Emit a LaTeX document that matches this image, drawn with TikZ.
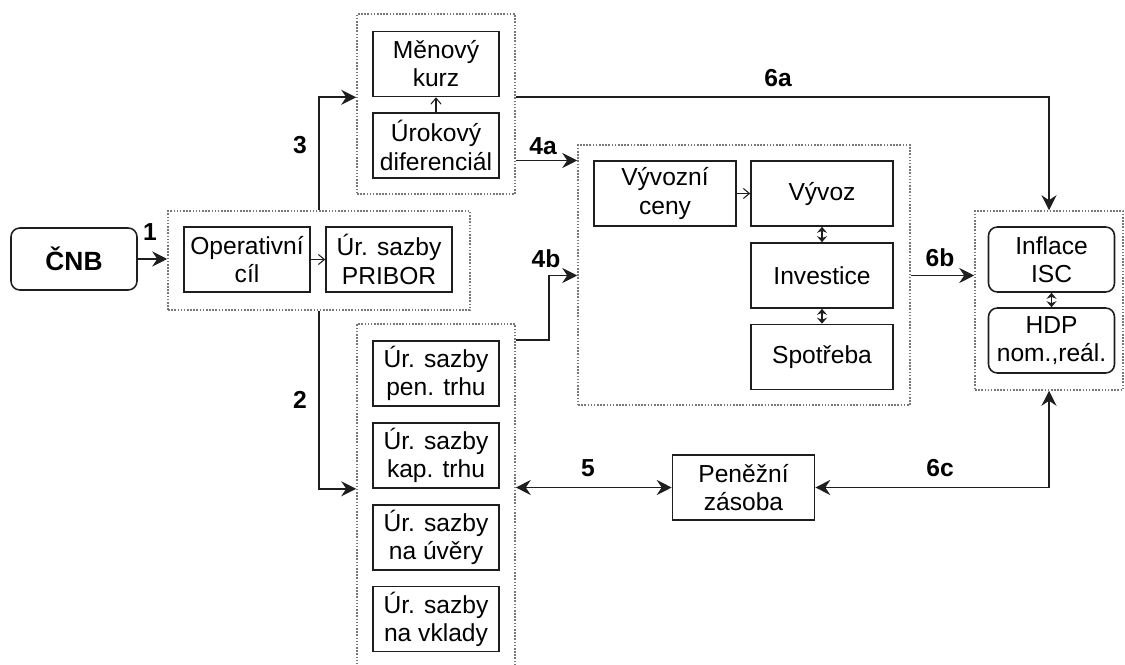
\documentclass[tikz,border=0pt]{standalone}
\usepackage{fontspec}
\setmainfont{Liberation Sans}
\usetikzlibrary{arrows.meta, positioning, calc}
\definecolor{boxline}{RGB}{30,30,30}
\definecolor{grpline}{RGB}{120,120,120}
\tikzset{
  box/.style={rectangle, draw=boxline, line width=0.9pt,
    minimum width=2.52cm, minimum height=1.3cm, align=center,
    font=\fontsize{14}{16}\selectfont, inner sep=1pt},
  rbox/.style={box, rounded corners=5pt},
  wbox/.style={box, minimum width=2.84cm},
  group/.style={rectangle, draw=grpline, line width=0.9pt,
    dash pattern=on 0.9pt off 0.9pt},
  arrow/.style={-{Stealth[length=3mm, width=3mm, inset=1mm]}, line width=1pt, color=boxline},
  dblarrow/.style={{Stealth[length=3mm, width=3mm, inset=1mm]}-{Stealth[length=3mm, width=3mm, inset=1mm]},
    line width=1pt, color=boxline},
  thinarrow/.style={-{Straight Barb[length=1.2mm, width=2mm]}, line width=0.6pt, color=boxline},
  thindbl/.style={{Stealth[length=1.2mm, width=2mm]}-{Stealth[length=1.2mm, width=2mm]},
    line width=1pt, color=boxline},
  lbl/.style={font=\fontsize{14}{16}\selectfont\bfseries}
}

\begin{document}
\begin{tikzpicture}[x=0.02cm, y=-0.02cm]
  \useasboundingbox (0,0) rectangle (1125,665);

  % Groups
  \node[group, minimum width=6.04cm, minimum height=1.98cm] (grp1) at (319,260.5) {};
  \node[group, minimum width=3.16cm, minimum height=3.6cm] (grp2) at (436,104) {};
  \node[group, minimum width=6.64cm, minimum height=5.2cm] (grp3) at (744,275) {};
  \node[group, minimum width=3.16cm, minimum height=7.02cm] (grp4) at (436,499.5) {};
  \node[group, minimum width=2.96cm, minimum height=3.58cm] (grp5) at (1049,300.5) {};

  % Blocks
  \node[rbox, minimum height=1.24cm, font=\fontsize{15}{17}\selectfont\bfseries] (cnb) at (74,259) {ČNB};
  \node[box] (opcil) at (247,259.5) {Operativní\\cíl};
  \node[box] (pribor) at (389,259.5) {Úr. sazby\\PRIBOR};

  \node[box] (mkurz) at (436,64) {Měnový\\kurz};
  \node[box] (udif) at (436,145.5) {Úrokový\\diferenciál};

  \node[wbox] (vceny) at (665,193.5) {Vývozní\\ceny};
  \node[wbox] (vyvoz) at (822,193.5) {Vývoz};
  \node[wbox] (inv) at (822,275.5) {Investice};
  \node[wbox] (spot) at (822,357) {Spotřeba};

  \node[box] (pen) at (436,373.5) {Úr. sazby\\pen. trhu};
  \node[box] (kap) at (436,455.5) {Úr. sazby\\kap. trhu};
  \node[box] (uver) at (436,537.5) {Úr. sazby\\na úvěry};
  \node[box] (vklad) at (436,619) {Úr. sazby\\na vklady};

  \node[rbox] (infl) at (1051.5,259.5) {Inflace\\ISC};
  \node[rbox] (hdp) at (1051.5,340.5) {HDP\\nom.,reál.};

  \node[wbox] (zasoba) at (743.5,487.5) {Peněžní\\zásoba};

  % Labels
  \node[lbl] (l1) at (150,232) {1};
  \node[lbl] (l3) at (300,145) {3};
  \node[lbl] (l2) at (300,400) {2};
  \node[lbl] (l6a) at (778,78) {6a};
  \node[lbl] (l4a) at (543,146) {4a};
  \node[lbl] (l4b) at (546,259) {4b};
  \node[lbl] (l6b) at (940,258) {6b};
  \node[lbl] (l5) at (588,468) {5};
  \node[lbl] (l6c) at (940,468) {6c};

  % Flows
  \draw[arrow] (cnb.east) -- (cnb.east -| grp1.west);
  \draw[thinarrow] (opcil) -- (pribor);
  \draw[arrow] (grp1.north) |- (mkurz.south -| grp2.west);
  \draw[arrow] (grp1.south) |- (kap.south -| grp4.west);
  \draw[thinarrow] (udif) -- (mkurz);
  \draw[arrow] (mkurz.south -| grp2.east) -| (grp5.north);
  \draw[arrow] ($(udif.east -| grp2.east)+(0,15)$) -- ($(udif.east -| grp3.west)+(0,15)$);
  \draw[arrow] (pen.north -| grp4.east) -- ++(33,0) |- (inv -| grp3.west);
  \draw[thinarrow] (vceny) -- (vyvoz);
  \draw[thindbl] (vyvoz) -- (inv);
  \draw[thindbl] (inv) -- (spot);
  \draw[arrow] (inv -| grp3.east) -- (inv -| grp5.west);
  \draw[thindbl] (infl) -- (hdp);
  \draw[dblarrow] (zasoba -| grp4.east) -- (zasoba.west);
  \draw[dblarrow] (grp5.south) |- (zasoba.east);
\end{tikzpicture}
\end{document}
